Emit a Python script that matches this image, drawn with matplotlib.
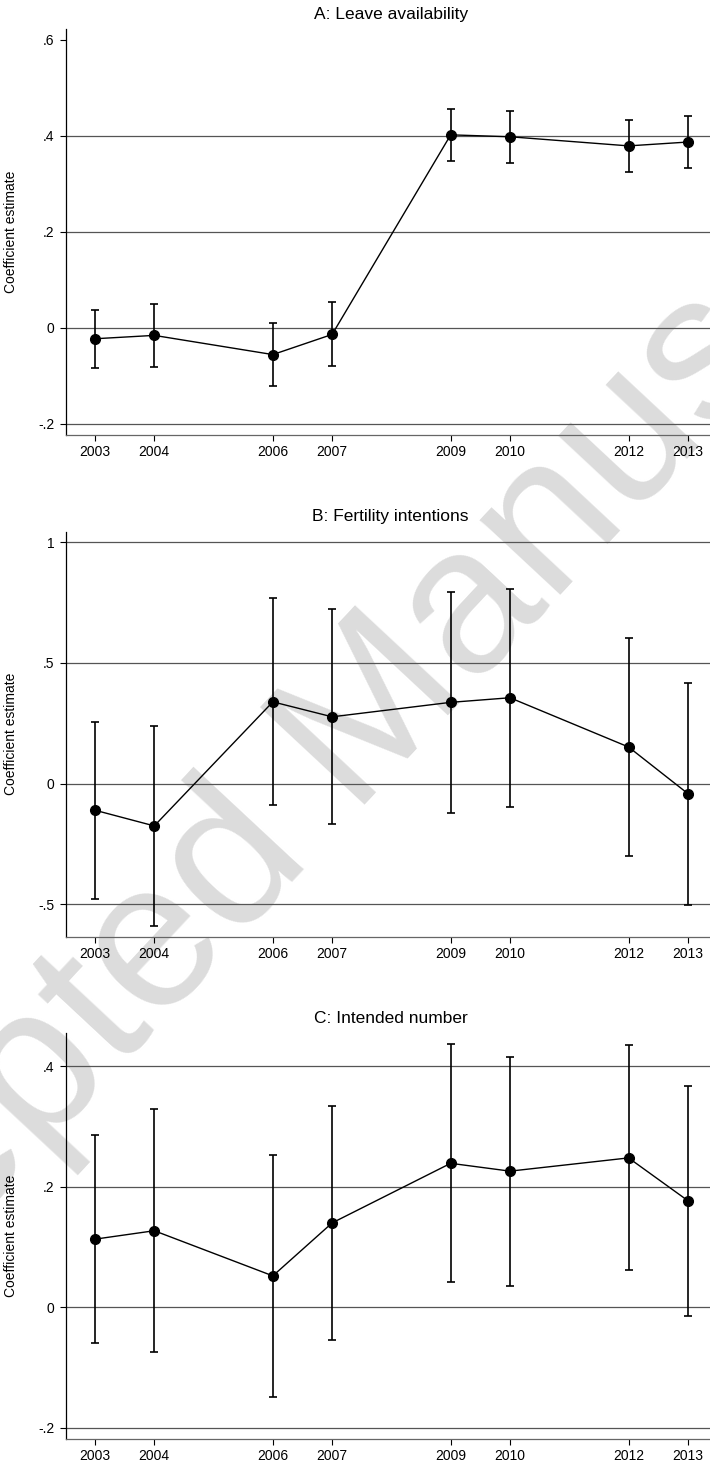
import numpy as np
import matplotlib.pyplot as plt

plt.rcParams['font.family'] = ['Liberation Sans', 'DejaVu Sans']

years = [2003, 2004, 2006, 2007, 2009, 2010, 2012, 2013]

# A: Leave availability
leave_coef = [-0.023, -0.016, -0.056, -0.014, 0.402, 0.398, 0.379, 0.387]
leave_lo = [-0.083, -0.081, -0.121, -0.080, 0.348, 0.344, 0.325, 0.333]
leave_hi = [0.037, 0.049, 0.010, 0.053, 0.456, 0.452, 0.433, 0.442]

# B: Fertility intentions
fert_coef = [-0.110, -0.175, 0.339, 0.277, 0.337, 0.356, 0.152, -0.041]
fert_lo = [-0.477, -0.590, -0.090, -0.167, -0.120, -0.098, -0.301, -0.501]
fert_hi = [0.257, 0.239, 0.768, 0.724, 0.793, 0.808, 0.605, 0.417]

# C: Intended number
num_coef = [0.113, 0.127, 0.052, 0.140, 0.239, 0.226, 0.248, 0.177]
num_lo = [-0.060, -0.075, -0.150, -0.054, 0.042, 0.036, 0.061, -0.015]
num_hi = [0.286, 0.329, 0.253, 0.334, 0.437, 0.416, 0.436, 0.368]

titles = ['A: Leave availability', 'B: Fertility intentions', 'C: Intended number']
yticks = [[-0.2, 0, 0.2, 0.4, 0.6], [-0.5, 0, 0.5, 1], [-0.2, 0, 0.2, 0.4]]
ylabels = [['-.2', '0', '.2', '.4', '.6'], ['-.5', '0', '.5', '1'], ['-.2', '0', '.2', '.4']]
grids = [[-0.2, 0, 0.2, 0.4], [-0.5, 0, 0.5, 1], [-0.2, 0, 0.2, 0.4]]
ylims = [(-0.223, 0.622), (-0.634, 1.044), (-0.219, 0.455)]
series = [(leave_coef, leave_lo, leave_hi), (fert_coef, fert_lo, fert_hi), (num_coef, num_lo, num_hi)]

W, H = 710, 1464
fig = plt.figure(figsize=(W / 100, H / 100), dpi=100)

# watermark behind the panels
fig.text(0.487, 0.49, 'Accepted Manuscript', fontsize=150, color='#dcdcdc',
         rotation=47, ha='center', va='center', rotation_mode='anchor', zorder=-5)

# axes boxes in pixels: (top, bottom)
boxes = [(29.3, 434.7), (531.7, 936.7), (1033.3, 1439.0)]
left_px, right_px = 65.7, 715.7

for i in range(3):
    top, bot = boxes[i]
    ax = fig.add_axes([left_px / W, 1 - bot / H, (right_px - left_px) / W, (bot - top) / H])
    ax.set_facecolor('none')
    coef, lo, hi = series[i]
    coef = np.array(coef)
    err = [coef - np.array(lo), np.array(hi) - coef]

    for g in grids[i]:
        ax.axhline(g, color='#555555', lw=0.9, zorder=1)

    ax.errorbar(years, coef, yerr=err, fmt='none', ecolor='black', elinewidth=1.2,
                capsize=3.2, capthick=1.2, zorder=3)
    ax.plot(years, coef, color='black', lw=1.0, marker='o', markersize=7, zorder=4)

    ax.set_xlim(2002.506, 2013.47)
    ax.set_ylim(*ylims[i])
    ax.set_xticks(years)
    ax.set_xticklabels([str(y) for y in years])
    ax.set_yticks(yticks[i])
    ax.set_yticklabels(ylabels[i])
    ax.tick_params(axis='both', labelsize=10, length=4, width=0.8, direction='out')
    ax.tick_params(axis='x', pad=3.5, colors='black')
    ax.tick_params(axis='y', pad=4)

    for s in ['top', 'right']:
        ax.spines[s].set_visible(False)
    ax.spines['left'].set_color('black')
    ax.spines['left'].set_linewidth(0.9)
    ax.spines['bottom'].set_color('#666666')
    ax.spines['bottom'].set_linewidth(0.9)

    ax.set_ylabel('Coefficient estimate', fontsize=10)
    ax.yaxis.set_label_coords(-0.074, 0.5)
    ax.set_title(titles[i], fontsize=12.5, pad=7.5)

fig.savefig('out.png', dpi=100)
